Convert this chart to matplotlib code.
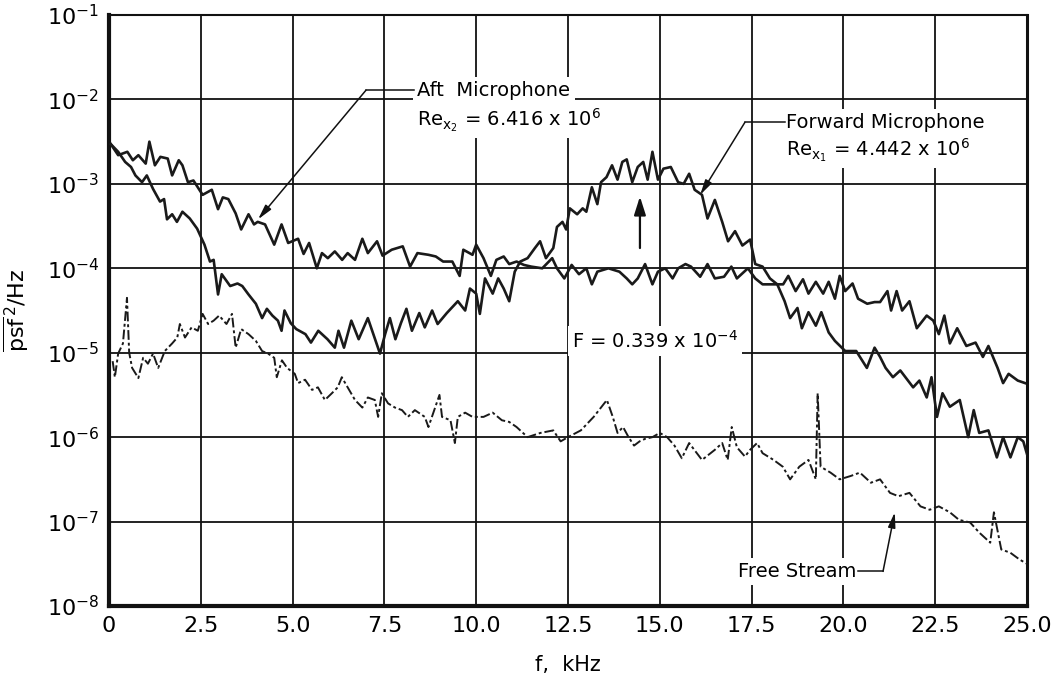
import numpy as np
import matplotlib
matplotlib.use("Agg")
import matplotlib.pyplot as plt

# spectra: frequency in kHz, log10 of psf^2/Hz
aft_khz = [0.05, 0.25, 0.5, 0.65, 0.8, 1.0, 1.1, 1.25, 1.4, 1.6, 1.72, 1.9, 2.0, 2.15, 2.3,
           2.55, 2.8, 2.97, 3.1, 3.25, 3.45, 3.6, 3.8, 3.95, 4.05, 4.25, 4.5, 4.7, 4.88, 5.15,
           5.3, 5.45, 5.66, 5.8, 5.96, 6.15, 6.35, 6.5, 6.7, 6.9, 7.05, 7.3, 7.45, 7.7, 8.0,
           8.2, 8.4, 8.7, 8.9, 9.1, 9.35, 9.55, 9.65, 9.9, 10.0, 10.2, 10.4, 10.55, 10.75, 10.9,
           11.1, 11.3, 11.5, 11.8, 12.07, 12.2, 12.4, 12.6, 12.8, 13.0, 13.15, 13.3, 13.6, 13.9,
           14.1, 14.25, 14.4, 14.6, 14.8, 14.95, 15.15, 15.35, 15.5, 15.7, 15.85, 16.1, 16.3,
           16.5, 16.75, 16.95, 17.1, 17.4, 17.6, 17.8, 18.36, 18.5, 18.7, 18.9, 19.05, 19.25,
           19.45, 19.6, 19.77, 19.9, 20.05, 20.25, 20.4, 20.65, 20.85, 21.0, 21.2, 21.3, 21.45,
           21.6, 21.8, 22.0, 22.27, 22.45, 22.6, 22.75, 22.9, 23.1, 23.35, 23.6, 23.8, 23.95,
           24.2, 24.35, 24.5, 24.75, 24.95]
aft_log = [-2.53, -2.66, -2.62, -2.72, -2.66, -2.76, -2.50, -2.78, -2.68, -2.70, -2.90, -2.72,
           -2.78, -2.98, -2.96, -3.13, -3.07, -3.30, -3.16, -3.18, -3.35, -3.54, -3.36, -3.48,
           -3.45, -3.48, -3.72, -3.48, -3.70, -3.65, -3.83, -3.70, -4.00, -3.82, -3.88, -3.80,
           -3.90, -3.82, -3.90, -3.65, -3.82, -3.68, -3.85, -3.78, -3.74, -3.98, -3.82, -3.84,
           -3.86, -3.92, -3.92, -4.09, -3.78, -3.84, -3.72, -3.88, -4.09, -3.90, -3.86, -3.95,
           -3.92, -3.96, -3.98, -4.00, -3.88, -4.00, -4.12, -3.96, -4.07, -4.00, -4.19, -4.04,
           -4.00, -4.04, -4.12, -4.19, -4.12, -3.95, -4.19, -4.04, -4.00, -4.12, -4.00, -3.95,
           -3.98, -4.10, -3.95, -4.12, -4.10, -3.98, -4.12, -4.00, -4.12, -4.19, -4.19, -4.09,
           -4.27, -4.13, -4.30, -4.16, -4.30, -4.16, -4.36, -4.09, -4.27, -4.18, -4.36, -4.42,
           -4.40, -4.40, -4.27, -4.50, -4.27, -4.50, -4.39, -4.71, -4.56, -4.62, -4.78, -4.56,
           -4.89, -4.71, -4.92, -4.88, -5.05, -4.92, -5.18, -5.36, -5.25, -5.33, -5.36]

fwd_khz = [0.05, 0.25, 0.44, 0.6, 0.72, 0.9, 1.03, 1.2, 1.39, 1.5, 1.58, 1.72, 1.85, 2.0, 2.2,
           2.4, 2.6, 2.75, 2.85, 2.97, 3.07, 3.3, 3.5, 3.63, 3.8, 4.0, 4.17, 4.3, 4.45, 4.6, 4.7,
           4.78, 4.95, 5.1, 5.35, 5.5, 5.7, 5.95, 6.15, 6.25, 6.4, 6.6, 6.8, 7.05, 7.2, 7.38,
           7.52, 7.65, 7.8, 7.95, 8.1, 8.25, 8.45, 8.6, 8.8, 8.95, 9.2, 9.5, 9.7, 9.83, 10.0,
           10.1, 10.24, 10.45, 10.6, 10.75, 10.9, 11.05, 11.2, 11.4, 11.6, 11.74, 11.9, 12.1,
           12.2, 12.35, 12.45, 12.55, 12.75, 12.9, 13.0, 13.15, 13.3, 13.4, 13.55, 13.7, 13.85,
           13.98, 14.1, 14.25, 14.4, 14.55, 14.67, 14.8, 14.95, 15.1, 15.3, 15.5, 15.65, 15.8,
           15.95, 16.15, 16.3, 16.5, 16.7, 16.86, 17.05, 17.25, 17.46, 17.6, 17.8, 18.0, 18.2,
           18.4, 18.55, 18.75, 18.87, 19.05, 19.25, 19.4, 19.6, 19.77, 20.05, 20.35, 20.64,
           20.85, 21.0, 21.15, 21.35, 21.55, 21.9, 22.07, 22.27, 22.4, 22.55, 22.7, 22.9, 23.17,
           23.4, 23.55, 23.7, 23.95, 24.18, 24.35, 24.55, 24.75, 24.9, 25.0]
fwd_log = [-2.53, -2.62, -2.74, -2.80, -2.90, -2.98, -2.90, -3.06, -3.21, -3.18, -3.42, -3.36,
           -3.45, -3.33, -3.41, -3.53, -3.72, -3.92, -3.90, -4.31, -4.07, -4.21, -4.18, -4.21,
           -4.31, -4.42, -4.59, -4.48, -4.56, -4.62, -4.74, -4.50, -4.65, -4.72, -4.78, -4.88,
           -4.74, -4.84, -4.94, -4.74, -4.94, -4.62, -4.84, -4.59, -4.78, -5.01, -4.78, -4.59,
           -4.84, -4.65, -4.48, -4.74, -4.53, -4.70, -4.50, -4.66, -4.53, -4.39, -4.50, -4.24,
           -4.30, -4.54, -4.12, -4.30, -4.12, -4.24, -4.39, -4.04, -3.92, -3.88, -3.76, -3.68,
           -3.88, -3.76, -3.51, -3.45, -3.54, -3.29, -3.36, -3.29, -3.33, -3.04, -3.24, -2.98,
           -2.92, -2.78, -2.95, -2.74, -2.71, -2.98, -2.80, -2.74, -2.95, -2.62, -2.95, -2.82,
           -2.80, -2.98, -3.00, -2.88, -3.07, -3.13, -3.41, -3.19, -3.45, -3.68, -3.56, -3.73,
           -3.66, -3.95, -3.98, -4.12, -4.19, -4.39, -4.59, -4.47, -4.71, -4.52, -4.68, -4.52,
           -4.76, -4.86, -4.98, -4.98, -5.18, -4.94, -5.05, -5.18, -5.29, -5.21, -5.41, -5.33,
           -5.53, -5.29, -5.76, -5.48, -5.64, -5.56, -6.00, -5.68, -5.95, -5.92, -6.24, -6.00,
           -6.24, -6.00, -6.05, -6.20]

free_khz = [0.1, 0.16, 0.25, 0.38, 0.49, 0.55, 0.63, 0.8, 0.93, 1.06, 1.2, 1.34, 1.52, 1.72,
            1.86, 1.93, 2.07, 2.25, 2.42, 2.55, 2.7, 2.85, 3.0, 3.2, 3.35, 3.45, 3.6, 3.8, 4.0,
            4.17, 4.33, 4.5, 4.57, 4.71, 4.85, 5.06, 5.15, 5.34, 5.53, 5.69, 5.88, 6.07, 6.23,
            6.34, 6.5, 6.7, 6.9, 7.05, 7.24, 7.33, 7.43, 7.6, 7.79, 7.98, 8.14, 8.33, 8.6, 8.7,
            8.88, 9.0, 9.07, 9.3, 9.42, 9.5, 9.7, 9.9, 10.2, 10.45, 10.7, 10.9, 11.1, 11.4,
            11.75, 12.1, 12.3, 12.5, 12.85, 13.2, 13.56, 13.72, 13.85, 14.0, 14.15, 14.3, 14.45,
            14.6, 14.8, 15.0, 15.2, 15.4, 15.6, 15.8, 16.15, 16.5, 16.7, 16.85, 16.96, 17.1,
            17.32, 17.46, 17.65, 17.8, 18.1, 18.35, 18.55, 18.8, 19.05, 19.25, 19.3, 19.38,
            19.65, 19.9, 20.2, 20.45, 20.75, 21.0, 21.27, 21.5, 21.8, 22.1, 22.35, 22.6, 22.9,
            23.15, 23.45, 23.7, 24.0, 24.1, 24.3, 24.55, 24.8, 25.0]
free_log = [-5.10, -5.29, -5.01, -4.89, -4.35, -5.00, -5.18, -5.30, -5.06, -5.13, -5.01, -5.18,
            -4.98, -4.89, -4.82, -4.66, -4.82, -4.70, -4.74, -4.54, -4.66, -4.62, -4.56, -4.66,
            -4.54, -4.94, -4.72, -4.78, -4.86, -4.98, -5.01, -5.06, -5.29, -5.09, -5.18, -5.25,
            -5.36, -5.32, -5.44, -5.41, -5.56, -5.48, -5.41, -5.29, -5.41, -5.56, -5.65, -5.53,
            -5.56, -5.76, -5.48, -5.60, -5.65, -5.68, -5.76, -5.68, -5.76, -5.88, -5.65, -5.50,
            -5.76, -5.80, -6.07, -5.76, -5.71, -5.76, -5.76, -5.71, -5.80, -5.82, -5.88, -6.00,
            -5.95, -5.92, -6.05, -6.00, -5.92, -5.76, -5.56, -5.76, -5.95, -5.88, -6.00, -6.10,
            -6.05, -6.02, -6.00, -5.95, -6.00, -6.10, -6.25, -6.07, -6.27, -6.15, -6.07, -6.27,
            -5.88, -6.12, -6.23, -6.15, -6.07, -6.19, -6.27, -6.35, -6.50, -6.35, -6.27, -6.50,
            -5.48, -6.35, -6.42, -6.50, -6.46, -6.42, -6.54, -6.50, -6.66, -6.70, -6.66, -6.82,
            -6.86, -6.82, -6.89, -6.98, -7.01, -7.13, -7.25, -6.89, -7.33, -7.37, -7.45, -7.50]

x_ticks = [0, 2.5, 5.0, 7.5, 10.0, 12.5, 15.0, 17.5, 20.0, 22.5, 25.0]
x_labels = ["0", "2.5", "5.0", "7.5", "10.0", "12.5", "15.0", "17.5", "20.0", "22.5", "25.0"]
y_ticks = [1e-8, 1e-7, 1e-6, 1e-5, 1e-4, 1e-3, 1e-2, 1e-1]

plt.rcParams['font.family'] = ['DejaVu Sans']
plt.rcParams['mathtext.fontset'] = 'dejavusans'

fig = plt.figure(figsize=(10.52, 6.74), dpi=100)
ax = fig.add_axes([0.1036, 0.1009, 0.8726, 0.8768])

ax.plot(aft_khz, 10 ** np.array(aft_log), color='#1a1a1a', lw=1.9, zorder=3)
ax.plot(fwd_khz, 10 ** np.array(fwd_log), color='#1a1a1a', lw=1.9, zorder=3)
ax.plot(free_khz, 10 ** np.array(free_log), color='#1a1a1a', lw=1.4,
        dashes=(5, 1.5, 1.5, 1.5), zorder=3)

ax.set_yscale('log')
ax.set_xlim(0, 25)
ax.set_ylim(1e-8, 1e-1)
ax.set_xticks(x_ticks)
ax.set_xticklabels(x_labels)
ax.set_yticks(y_ticks)
ax.minorticks_off()
ax.tick_params(length=0, labelsize=16, pad=7)
ax.grid(True, color='#111111', lw=1.3)
ax.set_axisbelow(True)

for side, w in [('left', 3.0), ('bottom', 3.0), ('right', 2.2), ('top', 1.5)]:
    ax.spines[side].set_linewidth(w)
    ax.spines[side].set_color('#111111')

ax.set_xlabel('f,  kHz', fontsize=15)
ax.xaxis.set_label_coords(0.5, -0.083)
ax.set_ylabel(r'$\overline{\mathrm{psf}}^{\,2}$/Hz', fontsize=16)
ax.yaxis.set_label_coords(-0.085, 0.5)

box = dict(facecolor='white', edgecolor='none', pad=3)
arr = dict(arrowstyle='-|>,head_length=0.9,head_width=0.22', color='#111111',
           lw=1.1, shrinkA=0, shrinkB=0)

# aft microphone label
ax.text(8.4, 10 ** -1.89, 'Aft  Microphone', fontsize=14, ha='left', va='center',
        bbox=box, zorder=4)
ax.text(8.4, 10 ** -2.25, r'Re$_{\mathrm{x}_2}$ = 6.416 x 10$^6$', fontsize=14,
        ha='left', va='center', bbox=box, zorder=4)
ax.plot([7.0, 8.3], [10 ** -1.89, 10 ** -1.89], color='#111111', lw=1.1, zorder=5)
ax.annotate('', xy=(4.06, 10 ** -3.42), xytext=(7.0, 10 ** -1.89), arrowprops=arr, zorder=5)

# forward microphone label
ax.text(18.45, 10 ** -2.27, 'Forward Microphone', fontsize=14, ha='left', va='center',
        bbox=box, zorder=4)
ax.text(18.45, 10 ** -2.6, r'Re$_{\mathrm{x}_1}$ = 4.442 x 10$^6$', fontsize=14,
        ha='left', va='center', bbox=box, zorder=4)
ax.plot([17.32, 18.4], [10 ** -2.27, 10 ** -2.27], color='#111111', lw=1.1, zorder=5)
ax.annotate('', xy=(16.1, 10 ** -3.13), xytext=(17.32, 10 ** -2.27), arrowprops=arr, zorder=5)

# free stream label
ax.text(20.35, 10 ** -7.59, 'Free Stream', fontsize=14, ha='right', va='center',
        bbox=box, zorder=4)
ax.plot([20.4, 21.08], [10 ** -7.59, 10 ** -7.59], color='#111111', lw=1.1, zorder=5)
ax.annotate('', xy=(21.4, 10 ** -6.89), xytext=(21.08, 10 ** -7.59), arrowprops=arr, zorder=5)

# rms level marker
ax.text(12.6, 10 ** -4.86, r'F = 0.339 x 10$^{-4}$', fontsize=14, ha='left', va='center',
        bbox=box, zorder=4)
ax.annotate('', xy=(14.46, 10 ** -3.15), xytext=(14.46, 10 ** -3.76),
            arrowprops=dict(arrowstyle='-|>,head_length=1.1,head_width=0.35',
                            color='#111111', lw=1.6, shrinkA=0, shrinkB=0), zorder=5)

fig.savefig('out.png', dpi=100)
